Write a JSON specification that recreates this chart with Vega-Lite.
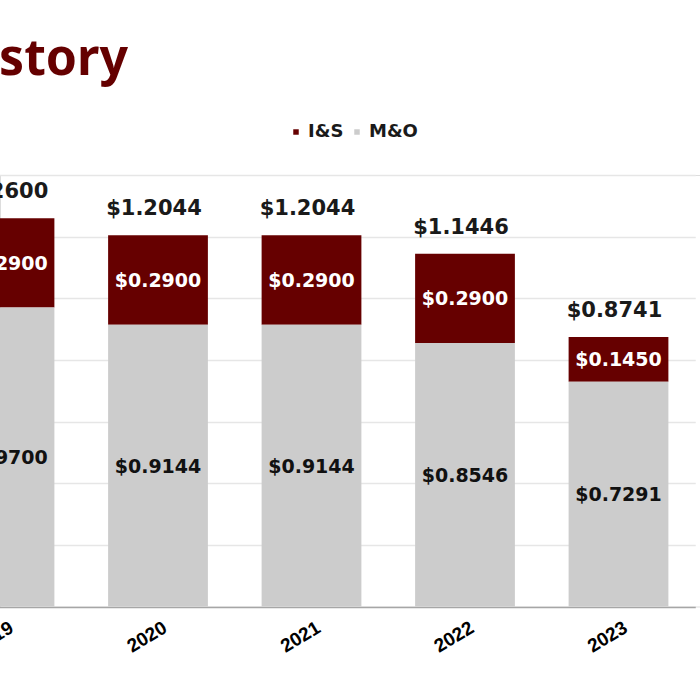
{
  "$schema": "https://vega.github.io/schema/vega-lite/v6.json",
  "width": 700,
  "height": 431.5,
  "autosize": {"type": "none"},
  "padding": {"left": 0, "top": 175, "right": 0, "bottom": 93.5},
  "background": "white",
  "title": {
    "text": "Tax Rate History",
    "anchor": "start",
    "frame": "group",
    "align": "right",
    "dx": 128,
    "baseline": "alphabetic",
    "offset": -2,
    "font": "Noto Sans",
    "fontSize": 50,
    "fontWeight": "bold",
    "color": "#650000"
  },
  "data": {
    "values": [
      {"year": "2019", "type": "I&S", "value": 0.29},
      {"year": "2019", "type": "M&O", "value": 0.97},
      {"year": "2020", "type": "I&S", "value": 0.29},
      {"year": "2020", "type": "M&O", "value": 0.9144},
      {"year": "2021", "type": "I&S", "value": 0.29},
      {"year": "2021", "type": "M&O", "value": 0.9144},
      {"year": "2022", "type": "I&S", "value": 0.29},
      {"year": "2022", "type": "M&O", "value": 0.8546},
      {"year": "2023", "type": "I&S", "value": 0.145},
      {"year": "2023", "type": "M&O", "value": 0.7291}
    ]
  },
  "transform": [
    {"stack": "value", "groupby": ["year"], "sort": [{"field": "type", "order": "descending"}], "as": ["v0", "v1"]},
    {"calculate": "(datum.v0 + datum.v1) / 2", "as": "mid"}
  ],
  "encoding": {
    "x": {
      "field": "year",
      "type": "ordinal",
      "title": null,
      "scale": {"range": [-72.25, 695.25], "paddingInner": 0.35, "paddingOuter": 0.175},
      "axis": {
        "domain": false,
        "ticks": false,
        "labelAngle": -31,
        "labelAlign": "center",
        "labelBaseline": "middle",
        "labelPadding": 30,
        "labelOffset": -11,
        "labelFont": "Liberation Sans",
        "labelFontSize": 19,
        "labelFontWeight": "bold",
        "labelColor": "#000000",
        "labelOverlap": false
      }
    }
  },
  "layer": [
    {
      "mark": {"type": "bar"},
      "encoding": {
        "y": {
          "field": "v1",
          "type": "quantitative",
          "title": null,
          "scale": {"domain": [0, 1.4], "nice": false},
          "axis": {
            "labels": false,
            "ticks": false,
            "domain": false,
            "values": [0, 0.2, 0.4, 0.6, 0.8, 1.0, 1.2, 1.4],
            "grid": true,
            "gridColor": {"condition": {"test": "datum.value === 0", "value": "#a6a6a6"}, "value": "#e6e6e6"},
            "gridWidth": 1.5
          }
        },
        "y2": {"field": "v0"},
        "color": {
          "field": "type",
          "type": "nominal",
          "scale": {"domain": ["I&S", "M&O"], "range": ["#660000", "#cccccc"]},
          "legend": {
            "orient": "none",
            "direction": "horizontal",
            "legendX": 287,
            "legendY": -52,
            "title": null,
            "symbolType": "square",
            "symbolSize": 30,
            "symbolStrokeWidth": 0,
            "labelFont": "DejaVu Sans",
            "labelFontSize": 18,
            "labelFontWeight": "bold",
            "labelColor": "#1a1a1a",
            "labelOffset": 3,
            "columnPadding": 4,
            "padding": 0
          }
        }
      }
    },
    {
      "mark": {"type": "text", "font": "DejaVu Sans", "fontWeight": "bold", "fontSize": 19, "baseline": "middle", "dy": 1},
      "encoding": {
        "y": {"field": "mid", "type": "quantitative", "title": null, "scale": {"domain": [0, 1.4], "nice": false}},
        "text": {"field": "value", "type": "quantitative", "format": "$.4f"},
        "color": {"condition": {"test": "datum.type === 'I&S'", "value": "#ffffff"}, "value": "#111111"}
      }
    },
    {
      "mark": {"type": "text", "font": "DejaVu Sans", "fontWeight": "bold", "fontSize": 21, "baseline": "alphabetic", "dy": -20, "dx": -4, "color": "#1a1a1a"},
      "encoding": {
        "y": {"aggregate": "sum", "field": "value", "type": "quantitative", "title": null, "scale": {"domain": [0, 1.4], "nice": false}},
        "text": {"aggregate": "sum", "field": "value", "type": "quantitative", "format": "$.4f"}
      }
    }
  ]
}
